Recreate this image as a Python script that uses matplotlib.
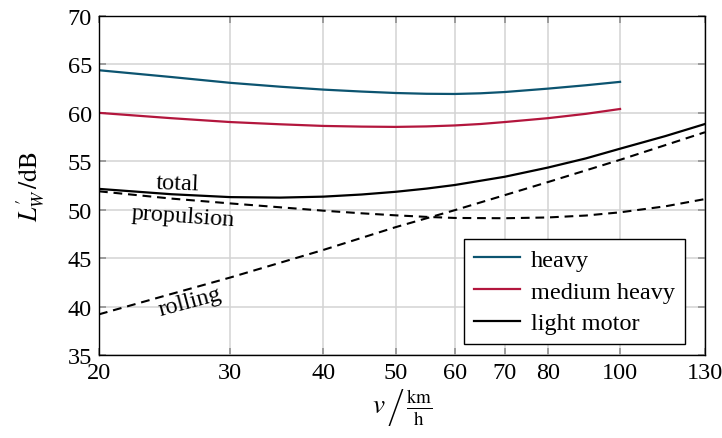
"""Sound power level vs. speed, per vehicle class, with light motor breakdown."""

import matplotlib
matplotlib.use("Agg")
import matplotlib.pyplot as plt
from matplotlib.ticker import FixedLocator, NullLocator, FixedFormatter

# ---- data ----
v_class = [20, 25, 30, 35, 40, 45, 50, 55, 60, 65, 70, 80, 90, 100]
heavy = [64.4, 63.7, 63.1, 62.7, 62.4, 62.2, 62.05, 61.97, 61.95, 62.02,
         62.15, 62.5, 62.85, 63.2]
medium_heavy = [60.0, 59.45, 59.05, 58.82, 58.65, 58.58, 58.55, 58.6, 58.7,
                58.85, 59.05, 59.45, 59.9, 60.4]

v_light = [20, 25, 30, 35, 40, 45, 50, 55, 60, 70, 80, 90, 100, 115, 130]
light_total = [52.15, 51.6, 51.3, 51.25, 51.35, 51.57, 51.85, 52.18, 52.55,
               53.4, 54.35, 55.3, 56.3, 57.6, 58.85]
propulsion = [51.9, 51.15, 50.65, 50.25, 49.9, 49.63, 49.42, 49.26, 49.15,
              49.12, 49.2, 49.4, 49.73, 50.35, 51.1]

v_roll = [20, 25, 30, 40, 50, 60, 70, 80, 100, 130]
rolling = [39.2, 41.3, 43.0, 45.85, 48.2, 49.95, 51.5, 52.85, 55.15, 58.0]

x_ticks = [20, 30, 40, 50, 60, 70, 80, 100, 130]
y_ticks = [35, 40, 45, 50, 55, 60, 65, 70]

plt.rcParams["font.family"] = ["Liberation Serif", "DejaVu Serif"]
plt.rcParams["mathtext.fontset"] = "stix"
FS = 17.5

fig = plt.figure(figsize=(7.22, 4.39), dpi=100)
ax = fig.add_axes([99 / 722, 1 - 356 / 439, 606 / 722, 339 / 439])

ax.set_xscale("log")
ax.set_xlim(20, 130)
ax.set_ylim(35, 70)

ax.plot(v_class, heavy, color="#0c5470", lw=1.6, label="heavy")
ax.plot(v_class, medium_heavy, color="#b3163d", lw=1.6, label="medium heavy")
ax.plot(v_light, light_total, color="black", lw=1.6, label="light motor")
ax.plot(v_light, propulsion, color="black", lw=1.5, ls=(0, (4.2, 2.8)))
ax.plot(v_roll, rolling, color="black", lw=1.5, ls=(0, (4.2, 2.8)))

ax.text(25.5, 52.75, "total", fontsize=FS, rotation=-2, ha="center", va="center")
ax.text(25.9, 49.35, "propulsion", fontsize=FS, rotation=-4, ha="center", va="center")
ax.text(26.5, 40.55, "rolling", fontsize=FS, rotation=15, ha="center", va="center")

ax.xaxis.set_major_locator(FixedLocator(x_ticks))
ax.xaxis.set_major_formatter(FixedFormatter([str(t) for t in x_ticks]))
ax.xaxis.set_minor_locator(NullLocator())
ax.set_yticks(y_ticks)

ax.grid(True, color="#d3d3d3", lw=1.1)
ax.set_axisbelow(True)
ax.tick_params(direction="in", length=5, width=1.1, color="#8a8a8a",
               top=True, right=True, labelsize=FS, pad=5)
for s in ax.spines.values():
    s.set_linewidth(1.0)
    s.set_zorder(5)

ax.set_ylabel(r"$L_W^{\prime}\,/\mathrm{dB}$", fontsize=FS + 1, labelpad=15)
ax.set_xlabel(r"$v\,\left/\,\frac{\mathrm{km}}{\mathrm{h}}\right.$", fontsize=FS + 2,
              labelpad=2)

leg = ax.legend(loc="lower right", bbox_to_anchor=(0.967, 0.032), fontsize=FS,
                borderaxespad=0, fancybox=False, framealpha=1, edgecolor="black",
                handlelength=1.9, handletextpad=0.45, borderpad=0.4,
                labelspacing=0.4)
leg.get_frame().set_linewidth(1.0)

fig.savefig("out.png", dpi=100)
